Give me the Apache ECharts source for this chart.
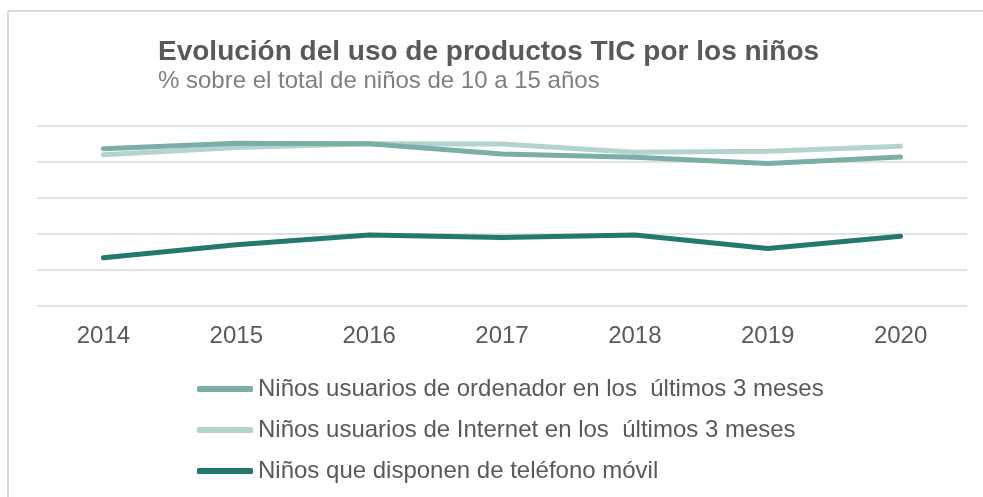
<!DOCTYPE html>
<html>
<head>
<meta charset="utf-8">
<script src="https://cdn.jsdelivr.net/npm/echarts@6/dist/echarts.min.js"></script>
<style>html,body{margin:0;padding:0;background:#fff;}#c{width:983px;height:497px;}</style>
</head>
<body>
<div id="c"></div>
<script>
const years = ['2014','2015','2016','2017','2018','2019','2020'];
const seriesNames = [
  'Niños usuarios de ordenador en los  últimos 3 meses',
  'Niños usuarios de Internet en los  últimos 3 meses',
  'Niños que disponen de teléfono móvil'
];
const ordenador = [93.7, 95.2, 95.1, 92.2, 91.3, 89.6, 91.4];
const internet = [92.0, 94.0, 95.1, 95.0, 92.7, 93.0, 94.4];
const movil = [63.4, 67.0, 69.7, 69.0, 69.7, 66.0, 69.4];
const titleText = 'Evolución del uso de productos TIC por los niños';
const subtitleText = '% sobre el total de niños de 10 a 15 años';

const chart = echarts.init(document.getElementById('c'), null, {renderer: 'canvas'});
const mkLine = (name, data, color, z) => ({
  name, type: 'line', data, symbol: 'none', z,
  lineStyle: {color, width: 5, cap: 'round', join: 'round'},
  itemStyle: {color}
});
chart.setOption({
  backgroundColor: '#ffffff',
  animation: false,
  title: {
    text: titleText,
    subtext: subtitleText,
    left: 153, top: 33,
    itemGap: 3,
    textStyle: {fontFamily: 'Liberation Sans, Arial', fontWeight: 'bold', fontSize: 28, color: '#595959'},
    subtextStyle: {fontFamily: 'Liberation Sans, Arial', fontSize: 24, color: '#7f7f7f'}
  },
  legend: {
    orient: 'vertical',
    left: 192, top: 372, height: 200,
    icon: 'roundRect',
    itemWidth: 56, itemHeight: 6, itemGap: 17,
    data: seriesNames,
    textStyle: {fontFamily: 'Liberation Sans, Arial', fontSize: 24, color: '#595959'}
  },
  grid: {left: 37, right: 16, top: 126, bottom: 191, containLabel: false},
  xAxis: {
    type: 'category', data: years, boundaryGap: true,
    axisLine: {show: false}, axisTick: {show: false},
    axisLabel: {fontFamily: 'Liberation Sans, Arial', fontSize: 24, color: '#595959', margin: 18}
  },
  yAxis: {
    type: 'value', min: 50, max: 100, interval: 10,
    axisLabel: {show: false}, axisLine: {show: false}, axisTick: {show: false},
    splitLine: {lineStyle: {color: '#d9d9d9', width: 1.5}}
  },
  series: [
    mkLine(seriesNames[1], internet, '#b3d3ce', 2),
    mkLine(seriesNames[0], ordenador, '#7bafa6', 3),
    mkLine(seriesNames[2], movil, '#23796d', 4)
  ],
  graphic: [
    {type: 'line', shape: {x1: 8, y1: 11, x2: 983, y2: 11}, style: {stroke: '#d9d9d9', lineWidth: 2}},
    {type: 'line', shape: {x1: 8, y1: 11, x2: 8, y2: 497}, style: {stroke: '#d9d9d9', lineWidth: 2}}
  ]
});
</script>
</body>
</html>
